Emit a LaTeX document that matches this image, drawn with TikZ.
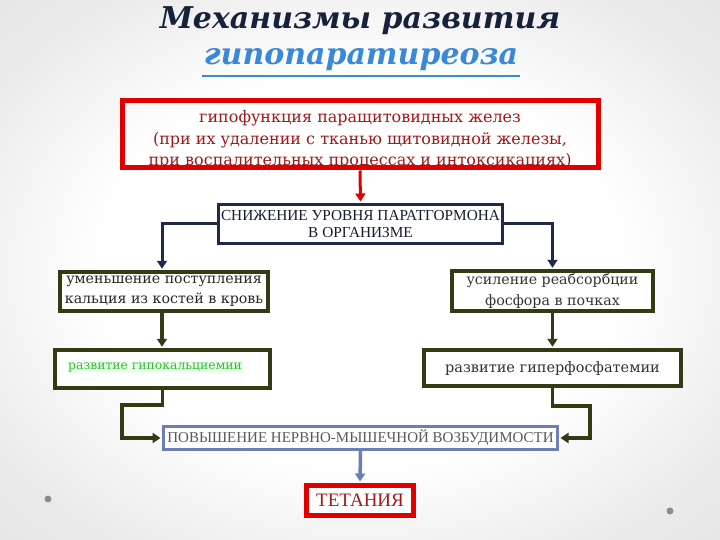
\documentclass[tikz,border=0pt]{standalone}
\usepackage{fontspec}
\setmainfont{DejaVu Serif}
\newfontfamily\capsfont{Liberation Serif}
\usetikzlibrary{arrows.meta}
\definecolor{bred}{HTML}{E00000}
\definecolor{dred}{HTML}{A01818}
\definecolor{navy}{HTML}{1F2A48}
\definecolor{olive}{HTML}{343A14}
\definecolor{steel}{HTML}{6A7FB5}
\definecolor{ttlblue}{HTML}{3A88D8}
\definecolor{ttlnavy}{HTML}{16213A}
\definecolor{grn}{HTML}{2EC02E}
\pgfdeclareradialshading{bgshade}{\pgfpoint{0bp}{0bp}}{color(0bp)=(white); color(18bp)=(white); color(30bp)=(black!8); color(50bp)=(black!14)}
\tikzset{
  box/.style={draw, rectangle, inner sep=0pt},
  redbox/.style={box, draw=bred, line width=5pt},
  navybox/.style={box, draw=navy, line width=3pt},
  olivebox/.style={box, draw=olive, line width=3.5pt},
  steelbox/.style={box, draw=steel, line width=3pt},
  arrowtip/.style={-{Triangle[width=10pt,length=8pt]}},
  txt/.style={align=center, inner sep=0pt},
}
\begin{document}
\begin{tikzpicture}[x=1pt,y=-1pt]
\useasboundingbox (0,0) rectangle (720,540);
\shade[shading=bgshade] (0,0) rectangle (720,540);
\fill[black!45] (48,499) circle (3.5);
\fill[black!45] (670,511) circle (3.5);
% title
\node[txt, text=ttlnavy, font=\fontsize{30}{32}\selectfont\bfseries\itshape] (t1) at (360,21) {Механизмы развития};
\node[txt, text=ttlblue, font=\fontsize{30}{32}\selectfont\bfseries\itshape] (t2) at (361,60) {гипопаратиреоза};
\draw[ttlblue, line width=2pt] (202,76.5) -- (520,76.5);
% top red box with clipped text
\begin{scope}
\clip (122,101) rectangle (598,168);
\node[txt, text=dred, font=\fontsize{16}{21.5}\selectfont] (toptext) at (360,140) {гипофункция паращитовидных желез\\(при их удалении с тканью щитовидной железы,\\при воспалительных процессах и интоксикациях)};
\end{scope}
\node[redbox, minimum width=476pt, minimum height=67pt] (top) at (360,134.5) {};
% boxes
\node[navybox, fill=white, minimum width=284pt, minimum height=39pt, txt, font=\capsfont\fontsize{15.3}{17}\selectfont, text=navy!70!black] (sn) at (360.5,224) {СНИЖЕНИЕ УРОВНЯ ПАРАТГОРМОНА\\В ОРГАНИЗМЕ};
\node[olivebox, fill=white, minimum width=208pt, minimum height=39pt, txt, font=\fontsize{14.2}{20}\selectfont, text=black!85] (um) at (164,291.5) {уменьшение поступления\\кальция из костей в кровь};
\node[olivebox, fill=white, minimum width=201pt, minimum height=40pt, txt, font=\fontsize{14.2}{21}\selectfont, text=black!80] (us) at (552.5,291) {усиление реабсорбции\\фосфора в почках};
\node[olivebox, fill=white, minimum width=215pt, minimum height=38pt] (gk) at (162.5,369) {};
\node[txt, anchor=west, text=grn, fill=green!7, inner sep=1pt, font=\fontsize{12.4}{16}\selectfont] (gktext) at (67,367) {развитие гипокальциемии};
\node[olivebox, fill=white, minimum width=257pt, minimum height=36pt, txt, font=\fontsize{14.5}{16}\selectfont, text=black!80] (gf) at (552.5,368) {развитие гиперфосфатемии};
\node[steelbox, fill=white, minimum width=394pt, minimum height=23pt, txt, font=\capsfont\fontsize{15}{16}\selectfont, text=black!65] (pv) at (360.5,438) {ПОВЫШЕНИЕ НЕРВНО-МЫШЕЧНОЙ ВОЗБУДИМОСТИ};
\node[redbox, fill=white, minimum width=107pt, minimum height=30pt, txt, font=\capsfont\fontsize{19}{20}\selectfont, text=dred] (tt) at (360,500.5) {ТЕТАНИЯ};
% connectors
\draw[bred, line width=3pt, arrowtip, shorten >=1.5pt] (top.south) -- (sn.north);
\draw[navy, line width=3pt, arrowtip, shorten >=1.5pt] (sn.west) -| ([xshift=-2pt]um.north);
\draw[navy, line width=3pt, arrowtip, shorten >=1.5pt] (sn.east) -| (us.north);
\draw[olive, line width=3.5pt, arrowtip, shorten >=1.5pt] ([xshift=-2pt]um.south) -- ([xshift=-2pt]um.south |- gk.north);
\draw[olive, line width=3.5pt, arrowtip, shorten >=1.5pt] (us.south) -- (us.south |- gf.north);
\coordinate (bl) at (122,405);
\coordinate (br) at (590,406);
\draw[olive, line width=3.5pt, arrowtip, shorten >=1.5pt] (gk.south) |- (bl) |- (pv.west);
\draw[olive, line width=3.5pt, arrowtip, shorten >=1.5pt] (gf.south) |- (br) |- (pv.east);
\draw[steel, line width=3.5pt, arrowtip, shorten >=1.5pt] (pv.south) -- (tt.north);
\end{tikzpicture}
\end{document}
